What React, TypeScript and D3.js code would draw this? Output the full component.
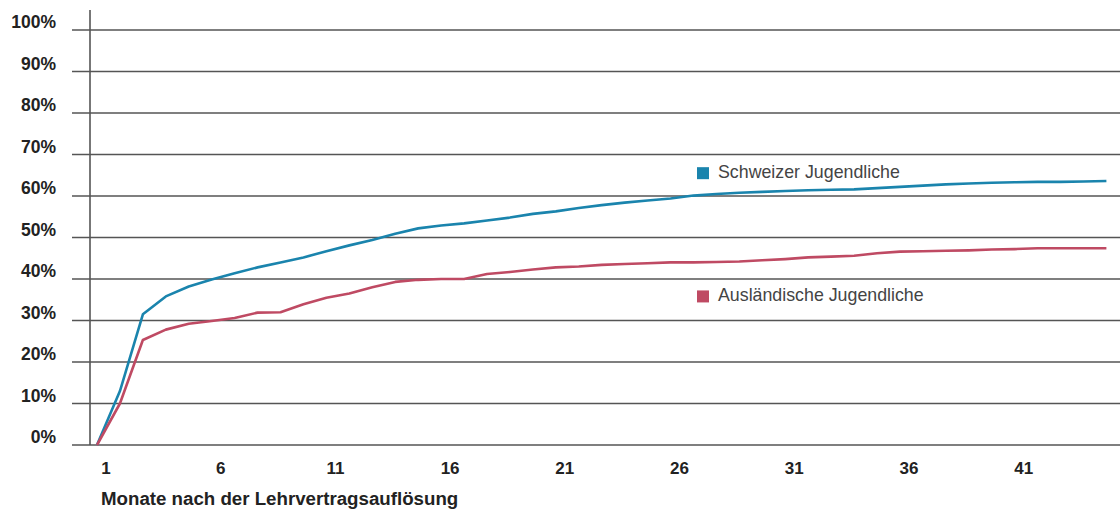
import React from "react";
import * as d3 from "d3";

const months = d3.range(1, 46);
const xTicks = [1, 6, 11, 16, 21, 26, 31, 36, 41];
const yTicks = [0, 10, 20, 30, 40, 50, 60, 70, 80, 90, 100];

const schweizer = [
  0, 13, 31.5, 35.8, 38.2, 39.9, 41.4, 42.8, 44.0, 45.2,
  46.7, 48.1, 49.4, 50.9, 52.2, 52.9, 53.4, 54.1, 54.8, 55.7,
  56.3, 57.1, 57.8, 58.4, 58.9, 59.4, 60.1, 60.5, 60.8, 61.0,
  61.2, 61.4, 61.5, 61.6, 61.9, 62.2, 62.5, 62.8, 63.0, 63.2,
  63.3, 63.4, 63.4, 63.5, 63.6,
];
const auslaendisch = [
  0, 10, 25.3, 27.8, 29.2, 29.9, 30.6, 31.9, 32.0, 33.9,
  35.5, 36.5, 38.0, 39.3, 39.8, 40.0, 40.0, 41.2, 41.7, 42.3,
  42.8, 43.0, 43.4, 43.6, 43.8, 44.0, 44.0, 44.1, 44.2, 44.5,
  44.8, 45.2, 45.4, 45.6, 46.2, 46.6, 46.7, 46.8, 46.9, 47.1,
  47.2, 47.4, 47.4, 47.4, 47.4,
];

const seriesNames = ["Schweizer Jugendliche", "Ausländische Jugendliche"];
const colors = ["#1a84ad", "#bf4a63"];

export default function App() {
  const W = 1120;
  const H = 510;
  const x = d3.scaleLinear().domain([1, 45]).range([97, 1106.4]);
  const y = d3.scaleLinear().domain([0, 100]).range([445, 30]);
  const line = d3
    .line<number>()
    .x((_, i) => x(months[i]))
    .y((d) => y(d));
  const series = [schweizer, auslaendisch];
  const legendY = [y(65.5), y(35.8)];
  const font = "'Liberation Sans', Arial, sans-serif";

  return (
    <svg
      width={W}
      height={H}
      style={{ position: "absolute", left: 0, top: 0, background: "#fff" }}
    >
      {yTicks.map((t) => (
        <g key={t}>
          <line x1={72} x2={W} y1={y(t)} y2={y(t)} stroke="#555" strokeWidth={1.6} />
          <text
            x={56}
            y={y(t) - 6.5}
            textAnchor="end"
            dominantBaseline="middle"
            fontFamily={font}
            fontWeight="bold"
            fontSize={17.5}
            fill="#222"
          >
            {t}%
          </text>
        </g>
      ))}
      <line x1={90} x2={90} y1={10} y2={445} stroke="#555" strokeWidth={1.6} />
      {xTicks.map((t) => (
        <text
          key={t}
          x={x(t) + 9}
          y={470}
          textAnchor="middle"
          dominantBaseline="middle"
          fontFamily="'Liberation Sans Narrow', 'Liberation Sans', Arial, sans-serif"
          fontWeight="bold"
          fontSize={17}
          fill="#222"
        >
          {t}
        </text>
      ))}
      <text
        x={101}
        y={505}
        fontFamily={font}
        fontWeight="bold"
        fontSize={18.7}
        fill="#222"
      >
        Monate nach der Lehrvertragsauflösung
      </text>
      {series.map((s, i) => (
        <path
          key={i}
          d={line(s) || ""}
          fill="none"
          stroke={colors[i]}
          strokeWidth={2.6}
          strokeLinejoin="round"
        />
      ))}
      {seriesNames.map((n, i) => (
        <g key={n}>
          <rect x={697} y={legendY[i] - 6} width={12} height={12} fill={colors[i]} />
          <text
            x={718}
            y={legendY[i]}
            dominantBaseline="middle"
            fontFamily={font}
            fontSize={17.8}
            fill="#444"
          >
            {n}
          </text>
        </g>
      ))}
    </svg>
  );
}
